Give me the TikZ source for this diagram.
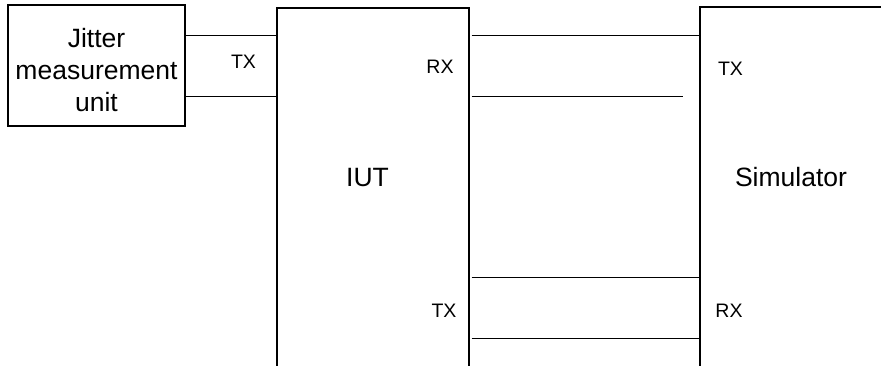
\documentclass[tikz,border=0pt]{standalone}
\usepackage{fontspec}
\setmainfont{Liberation Sans}
\begin{document}
\begin{tikzpicture}[x=1pt,y=-1pt,
  box/.style={draw,line width=1.2pt,rectangle,inner sep=0pt},
  wire/.style={line width=0.9pt},
  big/.style={font=\fontsize{26.5}{32}\selectfont,inner sep=0pt},
  small/.style={font=\fontsize{19.5}{23}\selectfont,inner sep=0pt}]
\useasboundingbox (0,0) rectangle (881,365);
\clip (0,0) rectangle (881,365);
% boxes
\node[box,minimum width=177pt,minimum height=121pt] (jit) at (96.5,65.5) {};
\node[big,align=center] (jtxt) at (96.5,70) {Jitter\\measurement\\unit};
\node[box,minimum width=192pt,minimum height=380pt] (iut) at (373,198) {};
\node[box,minimum width=200pt,minimum height=380pt] (sim) at (800,197) {};
\node[big] (iutl) at (367.5,177.5) {IUT};
\node[big] (siml) at (791,177.5) {Simulator};
% labels
\node[small] (l1) at (243.5,62) {TX};
\node[small] (l2) at (440,67) {RX};
\node[small] (l3) at (730.5,69) {TX};
\node[small] (l4) at (444,310.5) {TX};
\node[small] (l5) at (729,310.5) {RX};
% wire coordinates
\coordinate (a1) at (0,35);
\coordinate (a2) at (0,96);
\coordinate (b1) at (0,277);
\coordinate (b2) at (0,338);
\coordinate (e2) at (683,96);
\draw[wire] (jit.east |- a1) -- (iut.west |- a1);
\draw[wire] (jit.east |- a2) -- (iut.west |- a2);
\draw[wire] ([xshift=2pt]iut.east |- a1) -- (sim.west |- a1);
\draw[wire] ([xshift=2pt]iut.east |- a2) -- (e2);
\draw[wire] ([xshift=2pt]iut.east |- b1) -- (sim.west |- b1);
\draw[wire] ([xshift=2pt]iut.east |- b2) -- (sim.west |- b2);
\end{tikzpicture}
\end{document}
